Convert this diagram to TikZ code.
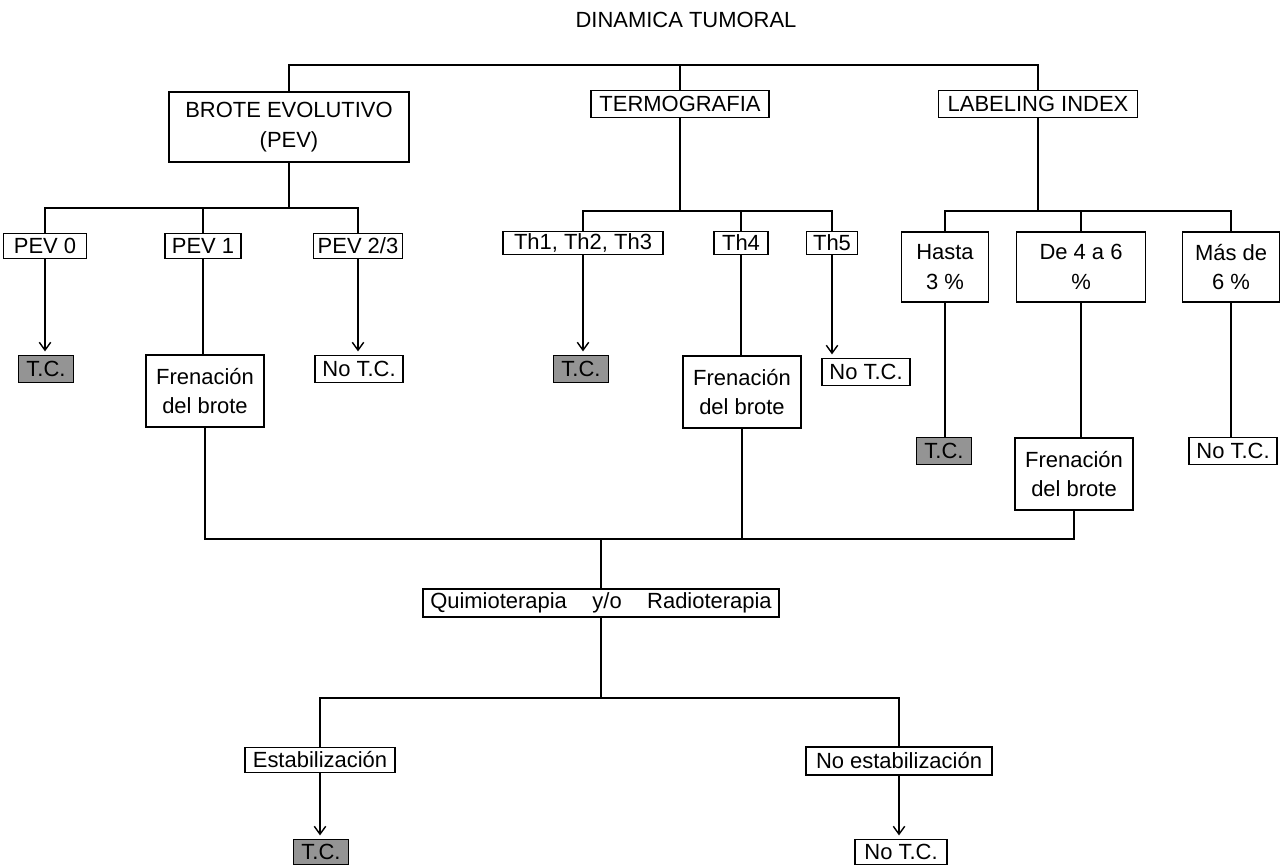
\documentclass[tikz,border=0pt]{standalone}
\usepackage{fontspec}
\setmainfont{Liberation Sans}
\usetikzlibrary{arrows.meta}
\tikzset{
	box/.style={draw, line width=0.7pt, inner sep=0pt, align=center, font=\fontsize{12.5}{17}\selectfont},
	tcbox/.style={box, fill=black!42, minimum width=1.1cm, minimum height=0.54cm},
	notcbox/.style={box, minimum width=1.76cm, minimum height=0.54cm},
	frenbox/.style={box, minimum width=2.36cm, minimum height=1.44cm},
	pevbox/.style={box, minimum height=0.5cm},
	thbox/.style={box, minimum height=0.46cm},
	libox/.style={box, minimum height=1.4cm},
	link/.style={line width=0.8pt},
	arr/.style={link, -{Straight Barb[length=4.5pt,width=6.5pt]}, shorten >=2pt},
}
\begin{document}
\begin{tikzpicture}[x=0.02cm, y=-0.02cm]
	\useasboundingbox (0,0) rectangle (1280,865);
	\node[font=\fontsize{12.5}{15}\selectfont] (title) at (686,20) {DINAMICA TUMORAL};

	\node[box, minimum width=4.8cm, minimum height=1.4cm] (brote) at (289,127) {BROTE EVOLUTIVO\\(PEV)};
	\node[box, minimum width=3.56cm, minimum height=0.54cm] (termo) at (680,104) {TERMOGRAFIA};
	\node[box, minimum width=3.98cm, minimum height=0.54cm] (labeling) at (1038,104) {LABELING INDEX};

	\node[pevbox, minimum width=1.66cm] (pev0) at (45,246) {PEV 0};
	\node[pevbox, minimum width=1.52cm] (pev1) at (203,246) {PEV 1};
	\node[pevbox, minimum width=1.78cm] (pev23) at (358,246) {PEV 2/3};
	\node[tcbox] (tc1) at (46,369) {T.C.};
	\node[frenbox] (fren1) at (205,391) {Frenación\\del brote};
	\node[notcbox] (notc1) at (359,369) {No T.C.};

	\node[thbox, minimum width=3.2cm] (th123) at (583,243) {Th1, Th2, Th3};
	\node[thbox, minimum width=1.08cm] (th4) at (741,243) {Th4};
	\node[thbox, minimum width=1.02cm] (th5) at (832,243) {Th5};
	\node[tcbox] (tc2) at (581,369) {T.C.};
	\node[frenbox] (fren2) at (742,392) {Frenación\\del brote};
	\node[notcbox] (notc2) at (866,372) {No T.C.};

	\node[libox, minimum width=1.74cm] (hasta) at (945,267) {Hasta\\3 \%};
	\node[libox, minimum width=2.58cm] (de46) at (1081,267) {De 4 a 6\\\%};
	\node[libox, minimum width=1.94cm] (mas) at (1231,267) {Más de\\6 \%};
	\node[tcbox] (tc3) at (944,451) {T.C.};
	\node[frenbox] (fren3) at (1074,474) {Frenación\\del brote};
	\node[notcbox] (notc3) at (1233,451) {No T.C.};

	\node[box, minimum width=7.12cm, minimum height=0.56cm] (quimio) at (601,603) {Quimioterapia\hspace{14.5pt}y/o\hspace{14.5pt}Radioterapia};
	\node[box, minimum width=3.0cm, minimum height=0.5cm] (estab) at (320,760) {Estabilización};
	\node[box, minimum width=3.72cm, minimum height=0.56cm] (noestab) at (899,761) {No estabilización};
	\node[tcbox, minimum height=0.5cm] (tc4) at (321,852) {T.C.};
	\node[notcbox, minimum width=1.84cm, minimum height=0.5cm] (notc4) at (901,852) {No T.C.};

	\coordinate (top) at (680,65);
	\coordinate (pevbar) at (289,208);
	\coordinate (thbar) at (680,211);
	\coordinate (libar) at (1038,211);
	\coordinate (merge) at (601,539);
	\coordinate (low) at (601,698);

	\draw[link] (brote.north) |- (top) -| (labeling.north);
	\draw[link] (top) -- (termo.north);

	\draw[link] (brote.south) -- (pevbar);
	\draw[link] (pev0.north) |- (pevbar) -| (pev23.north);
	\draw[link] (pev1.north) -- (pev1.north |- pevbar);
	\draw[arr] (pev0.south) -- (pev0.south |- tc1.north);
	\draw[link] (pev1.south) -- (pev1.south |- fren1.north);
	\draw[arr] (pev23.south) -- (pev23.south |- notc1.north);

	\draw[link] (termo.south) -- (thbar);
	\draw[link] (th123.north) |- (thbar) -| (th5.north);
	\draw[link] (th4.north) -- (th4.north |- thbar);
	\draw[arr] (th123.south) -- (th123.south |- tc2.north);
	\draw[link] (th4.south) -- (th4.south |- fren2.north);
	\draw[arr] (th5.south) -- (th5.south |- notc2.north);

	\draw[link] (labeling.south) -- (libar);
	\draw[link] (hasta.north) |- (libar) -| (mas.north);
	\draw[link] (de46.north) -- (de46.north |- libar);
	\draw[link] (hasta.south) -- (hasta.south |- tc3.north);
	\draw[link] (de46.south) -- (de46.south |- fren3.north);
	\draw[link] (mas.south) -- (mas.south |- notc3.north);

	\draw[link] (fren1.south) |- (merge) -| (fren3.south);
	\draw[link] (fren2.south) -- (fren2.south |- merge);
	\draw[link] (merge) -- (quimio.north);

	\draw[link] (quimio.south) -- (low);
	\draw[link] (estab.north) |- (low) -| (noestab.north);
	\draw[arr] (estab.south) -- (estab.south |- tc4.north);
	\draw[arr] (noestab.south) -- (noestab.south |- notc4.north);
\end{tikzpicture}
\end{document}
